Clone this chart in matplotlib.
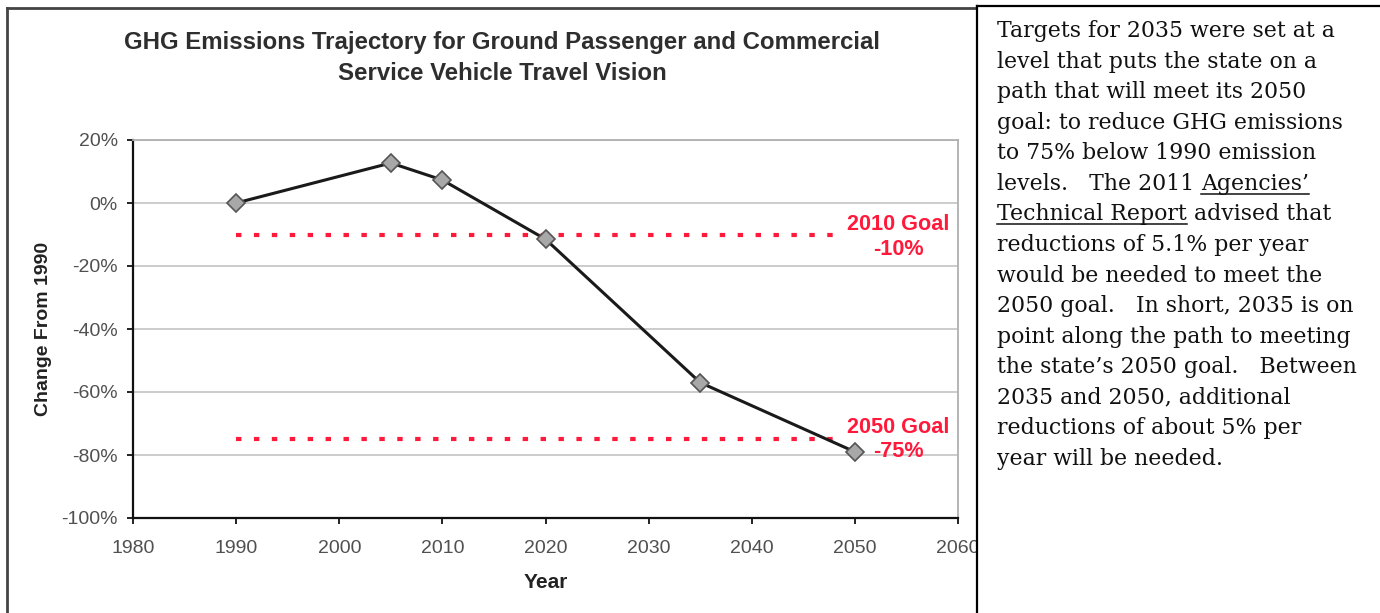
import matplotlib
matplotlib.use("Agg")
import matplotlib.pyplot as plt
from matplotlib.lines import Line2D
from matplotlib.patches import Rectangle
from matplotlib.ticker import FuncFormatter, MultipleLocator

# ---- data ----
years = [1990, 2005, 2010, 2020, 2035, 2050]
change = [0, 12.7, 7.3, -11.5, -57, -79]
goal_2010 = -10
goal_2050 = -75
goal_x = [1990, 2049]
title = "GHG Emissions Trajectory for Ground Passenger and Commercial\nService Vehicle Travel Vision"
xlabel = "Year"
ylabel = "Change From 1990"
text_lines = [
    [("Targets for 2035 were set at a", False)],
    [("level that puts the state on a", False)],
    [("path that will meet its 2050", False)],
    [("goal: to reduce GHG emissions", False)],
    [("to 75% below 1990 emission", False)],
    [("levels.   The 2011 ", False), ("Agencies\u2019", True)],
    [("Technical Report", True), (" advised that", False)],
    [("reductions of 5.1% per year", False)],
    [("would be needed to meet the", False)],
    [("2050 goal.   In short, 2035 is on", False)],
    [("point along the path to meeting", False)],
    [("the state\u2019s 2050 goal.   Between", False)],
    [("2035 and 2050, additional", False)],
    [("reductions of about 5% per", False)],
    [("year will be needed.", False)],
]

W, H = 1380, 613
fig = plt.figure(figsize=(W / 100, H / 100), dpi=100)
fig.patch.set_facecolor("white")

def fx(px):
    return px / W

def fy(py):
    return 1 - py / H

sans = ["Liberation Sans", "DejaVu Sans"]

ax = fig.add_axes([fx(133), fy(518), fx(958) - fx(133), fy(140) - fy(518)])
ax.set_xlim(1980, 2060)
ax.set_ylim(-100, 20)
ax.xaxis.set_major_locator(MultipleLocator(10))
ax.yaxis.set_major_locator(MultipleLocator(20))
ax.yaxis.set_major_formatter(FuncFormatter(lambda v, p: f"{int(round(v))}%"))
ax.grid(axis="y", color="#c8c8c8", lw=1.3)
ax.set_axisbelow(True)
for s in ["top", "right"]:
    ax.spines[s].set_color("#b0b0b0")
    ax.spines[s].set_linewidth(1.3)
for s in ["left", "bottom"]:
    ax.spines[s].set_color("#111111")
    ax.spines[s].set_linewidth(1.6)
ax.tick_params(axis="both", direction="out", length=4, width=1.3, color="#111111",
               labelsize=14, labelcolor="#505050")
ax.tick_params(axis="x", pad=12)
ax.tick_params(axis="y", pad=7)
for lab in ax.get_xticklabels() + ax.get_yticklabels():
    lab.set_family(sans)

dots = (0, (1.3, 3.0))
ax.plot(goal_x, [goal_2010, goal_2010], color="#ff1a3c", lw=3,
        linestyle=dots, dash_capstyle="butt", zorder=2)
ax.plot(goal_x, [goal_2050, goal_2050], color="#ff1a3c", lw=3,
        linestyle=dots, dash_capstyle="butt", zorder=2)
ax.plot(years, change, color="#1a1a1a", lw=2.2, marker="D", markersize=9.5,
        markerfacecolor="#a8a8a8", markeredgecolor="#555555", markeredgewidth=1.2,
        zorder=3)

ax.text(2054.2, -10.8, "2010 Goal\n-10%", color="#ff1a3c", fontsize=15.6,
        fontweight="bold", ha="center", va="center", family=sans, linespacing=1.2)
ax.text(2054.2, -75.2, "2050 Goal\n-75%", color="#ff1a3c", fontsize=15.6,
        fontweight="bold", ha="center", va="center", family=sans, linespacing=1.2)

ax.set_xlabel(xlabel, fontsize=15, fontweight="bold", family=sans, color="#222222",
              labelpad=11)
ax.set_ylabel(ylabel, fontsize=14, fontweight="bold", family=sans, color="#222222",
              labelpad=7)

fig.text(fx(502), fy(58), title, ha="center", va="center", fontsize=17.3,
         fontweight="bold", family=sans, color="#2e2e2e", linespacing=1.45)

# frames
fig.add_artist(Line2D([fx(7), fx(7)], [fy(8), fy(613)], color="#444444", lw=2))
fig.add_artist(Line2D([fx(7), fx(977)], [fy(8), fy(8)], color="#444444", lw=2))
fig.add_artist(Rectangle((fx(977), 0), 1 - fx(977), fy(6), facecolor="white",
                         edgecolor="none", zorder=5))
l1 = fig.add_artist(Line2D([fx(977), fx(977)], [fy(6), fy(613)], color="#000000", lw=1.6))
l2 = fig.add_artist(Line2D([fx(977), fx(1380)], [fy(6), fy(6)], color="#000000", lw=1.6))
l1.set_zorder(6)
l2.set_zorder(6)

# right text panel
renderer = fig.canvas.get_renderer()
serif = ["DejaVu Serif"]
probe = fig.text(0, 0, "point along the path to meeting", fontsize=10, family=serif)
w10 = probe.get_window_extent(renderer).width
probe.remove()
fs = 10 * 355 / w10

x0 = 997
base0 = 37
step = (465 - 37) / 14
for i, parts in enumerate(text_lines):
    yb = base0 + i * step
    xc = x0
    for txt, ul in parts:
        t = fig.text(fx(xc), fy(yb), txt, fontsize=fs, family=serif, ha="left",
                     va="baseline", color="#111111", zorder=7)
        w = t.get_window_extent(renderer).width
        if ul:
            u = fig.add_artist(Line2D([fx(xc), fx(xc + w)], [fy(yb + 4), fy(yb + 4)],
                                      color="#111111", lw=1.1))
            u.set_zorder(7)
        xc += w

fig.savefig("out.png", dpi=100)
